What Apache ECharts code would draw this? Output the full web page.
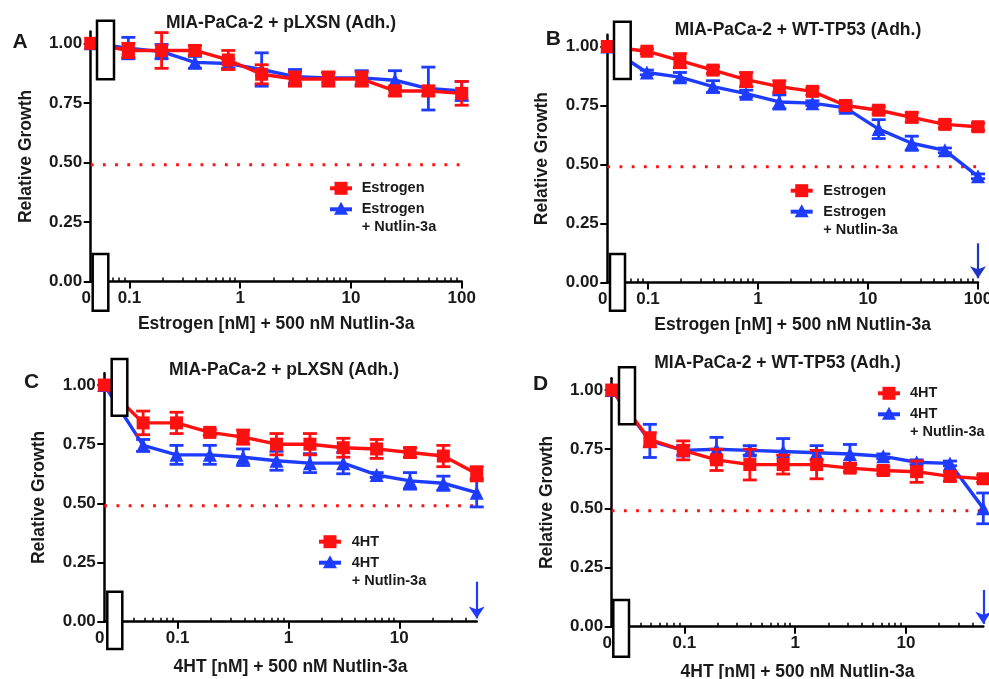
<!DOCTYPE html>
<html><head><meta charset="utf-8">
<script src="https://cdn.jsdelivr.net/npm/echarts@6/dist/echarts.min.js"></script>
<style>html,body{margin:0;padding:0;background:#fff}#c{width:989px;height:679px}</style>
</head><body><div id="c"></div>
<script>
// ---------- DATA ----------
const concEstrogen = [0, 0.0977, 0.195, 0.39, 0.78, 1.5625, 3.125, 6.25, 12.5, 25, 50, 100];
const conc4HT      = [0, 0.0488, 0.0977, 0.195, 0.39, 0.78, 1.5625, 3.125, 6.25, 12.5, 25, 50];

const aRed     = [1.00, 0.97, 0.97, 0.97, 0.93, 0.87, 0.85, 0.85, 0.85, 0.80, 0.80, 0.79];
const aRedErr  = [0, 0.03, 0.075, 0.02, 0.04, 0.04, 0.03, 0.03, 0.03, 0.02, 0.02, 0.05];
const aBlue    = [1.00, 0.98, 0.965, 0.92, 0.915, 0.89, 0.86, 0.855, 0.855, 0.845, 0.81, 0.80];
const aBlueErr = [0, 0.045, 0.03, 0.025, 0.02, 0.07, 0.03, 0.02, 0.03, 0.04, 0.09, 0.04];

const bRed     = [1.00, 0.98, 0.94, 0.90, 0.86, 0.83, 0.81, 0.75, 0.73, 0.70, 0.67, 0.66];
const bRedErr  = [0, 0.01, 0.03, 0.015, 0.03, 0.025, 0.015, 0.015, 0.015, 0.02, 0.015, 0.015];
const bBlue    = [1.00, 0.89, 0.87, 0.83, 0.80, 0.765, 0.76, 0.74, 0.65, 0.59, 0.56, 0.45];
const bBlueErr = [0, 0.01, 0.02, 0.025, 0.015, 0.03, 0.01, 0.015, 0.04, 0.03, 0.01, 0.01];

const cRed     = [1.00, 0.84, 0.84, 0.80, 0.78, 0.75, 0.75, 0.735, 0.73, 0.715, 0.70, 0.625];
const cRedErr  = [0, 0.05, 0.045, 0.012, 0.03, 0.045, 0.045, 0.04, 0.04, 0.02, 0.045, 0.03];
const cBlue    = [1.00, 0.745, 0.705, 0.705, 0.695, 0.68, 0.67, 0.67, 0.62, 0.595, 0.585, 0.545];
const cBlueErr = [0, 0.025, 0.04, 0.04, 0.035, 0.04, 0.04, 0.045, 0.01, 0.035, 0.03, 0.06];

const dRed     = [1.00, 0.79, 0.745, 0.705, 0.685, 0.685, 0.685, 0.67, 0.66, 0.655, 0.635, 0.625];
const dRedErr  = [0, 0.03, 0.04, 0.045, 0.065, 0.04, 0.06, 0.015, 0.015, 0.045, 0.02, 0.015];
const dBlue    = [1.00, 0.785, 0.745, 0.75, 0.745, 0.74, 0.735, 0.73, 0.72, 0.695, 0.69, 0.50];
const dBlueErr = [0, 0.07, 0.02, 0.05, 0.02, 0.055, 0.03, 0.04, 0.01, 0.01, 0.01, 0.065];

const halfGrowth = 0.49;
// arrows: [concentration, from, to]
const arrowB = [100, 0.166, 0.018];
const arrowC = [50, 0.169, 0.014];
const arrowD = [50, 0.155, 0.012];

const xTickValues = [0.1, 1, 10, 100];
const xTickLabels = ['0.1', '1', '10', '100'];
const xZeroLabel = '0';
const yTickValues = [0, 0.25, 0.5, 0.75, 1.0];
const yTickLabels = ['0.00', '0.25', '0.50', '0.75', '1.00'];

const panelLetters = ['A', 'B', 'C', 'D'];
const panelTitles = ['MIA-PaCa-2 + pLXSN (Adh.)', 'MIA-PaCa-2 + WT-TP53 (Adh.)', 'MIA-PaCa-2 + pLXSN (Adh.)', 'MIA-PaCa-2 + WT-TP53 (Adh.)'];
const xAxisNames = ['Estrogen [nM] + 500 nM Nutlin-3a', 'Estrogen [nM] + 500 nM Nutlin-3a', '4HT [nM] + 500 nM Nutlin-3a', '4HT [nM] + 500 nM Nutlin-3a'];
const yAxisName = 'Relative Growth';
const redNames = ['Estrogen', 'Estrogen', '4HT', '4HT'];
const blueNames = ['Estrogen\n+ Nutlin-3a', 'Estrogen\n+ Nutlin-3a', '4HT\n+ Nutlin-3a', '4HT\n+ Nutlin-3a'];

// ---------- STYLE / LAYOUT ----------
const RED = '#ff1010';
const BLUE = '#1e3cff';
const FONT = '"Liberation Sans", Arial, Helvetica, sans-serif';
const TXT = '#1a1a1a';

const panels = [
  { conc: concEstrogen, red: aRed, redErr: aRedErr, blue: aBlue, blueErr: aBlueErr, arrow: null, arrowColor: BLUE,
    left: 90.7, width: 371, top: 31.4, height: 250.1, xmin: -1.35, xmax: 2,
    titleX: 281, titleY: 23.5, letterX: 20, letterY: 42.7,
    legX: 341, legY: 188.3, legTextX: 361.7,
    rectTop: [97, 20.7, 17, 58.6], rectBot: [92.7, 254, 15.6, 56.7], nameGap: 34 },
  { conc: concEstrogen, red: bRed, redErr: bRedErr, blue: bBlue, blueErr: bBlueErr, arrow: arrowB, arrowColor: '#1f36c4',
    left: 607.3, width: 370.7, top: 34.7, height: 247.8, xmin: -1.37, xmax: 2,
    titleX: 798, titleY: 30, letterX: 553.3, letterY: 39.3,
    legX: 801.7, legY: 190.7, legTextX: 823.3,
    rectTop: [614, 21.7, 16.7, 57.3], rectBot: [610, 254, 15, 56.7], nameGap: 34 },
  { conc: conc4HT, red: cRed, redErr: cRedErr, blue: cBlue, blueErr: cBlueErr, arrow: arrowC, arrowColor: BLUE,
    left: 104.3, width: 372.4, top: 373.2, height: 248.5, xmin: -1.662, xmax: Math.log10(50),
    titleX: 284, titleY: 370, letterX: 31.7, letterY: 382,
    legX: 330, legY: 541.7, legTextX: 351.7,
    rectTop: [111.7, 359, 15.6, 56.7], rectBot: [107.3, 591.7, 15, 57.3], nameGap: 36 },
  { conc: conc4HT, red: dRed, redErr: dRedErr, blue: dBlue, blueErr: dBlueErr, arrow: arrowD, arrowColor: BLUE,
    left: 611.7, width: 371.6, top: 378.2, height: 248.5, xmin: -1.656, xmax: Math.log10(50),
    titleX: 777.5, titleY: 363.3, letterX: 540.5, letterY: 384.3,
    legX: 889, legY: 393.3, legTextX: 910,
    rectTop: [619, 367.3, 16, 57], rectBot: [613.3, 600, 15.7, 56.7], nameGap: 36 }
];

function xpos(c, p) { return c === 0 ? p.xmin : Math.log10(c); }

function minorTicks(p) {
  const out = [];
  for (let d = Math.floor(p.xmin); d <= Math.ceil(p.xmax); d++) {
    for (let k = 2; k <= 9; k++) {
      const v = Math.log10(k) + d;
      if (v > p.xmin + 1e-6 && v < p.xmax - 1e-6) out.push(v);
    }
  }
  return out;
}

function errRenderer(color) {
  return function (params, api) {
    const x = api.value(0), y = api.value(1), e = api.value(2);
    const t = api.coord([x, y + e]);
    const b = api.coord([x, y - e]);
    const hw = 7;
    const st = { stroke: color, lineWidth: 2.8 };
    return { type: 'group', children: [
      { type: 'line', shape: { x1: t[0], y1: t[1], x2: b[0], y2: b[1] }, style: st },
      { type: 'line', shape: { x1: t[0] - hw, y1: t[1], x2: t[0] + hw, y2: t[1] }, style: st },
      { type: 'line', shape: { x1: b[0] - hw, y1: b[1], x2: b[0] + hw, y2: b[1] }, style: st }
    ]};
  };
}

const grid = [], xAxis = [], yAxis = [], series = [], graphic = [];

panels.forEach((p, i) => {
  grid.push({ left: p.left, top: p.top, width: p.width, height: p.height, containLabel: false, outerBoundsMode: 'none' });
  const tickVals = xTickValues.filter(v => Math.log10(v) <= p.xmax + 1e-6);
  const labelMap = {};
  xTickValues.forEach((v, k) => { labelMap[Math.log10(v).toFixed(4)] = xTickLabels[k]; });
  // main x axis
  xAxis.push({
    type: 'value', gridIndex: i, min: p.xmin, max: p.xmax,
    name: xAxisNames[i], nameLocation: 'middle', nameGap: p.nameGap,
    nameTextStyle: { fontFamily: FONT, fontWeight: 'bold', fontSize: 17.5, color: TXT },
    axisLine: { show: true, onZero: false, lineStyle: { color: '#000', width: 2.5 } },
    axisTick: { show: true, customValues: tickVals.map(v => Math.log10(v)), length: 7, lineStyle: { color: '#000', width: 2 } },
    axisLabel: {
      show: true, customValues: [p.xmin].concat(tickVals.map(v => Math.log10(v))), margin: 8,
      fontFamily: FONT, fontWeight: 'bold', fontSize: 17, color: TXT,
      formatter: function (v) {
        if (Math.abs(v - p.xmin) < 1e-6) return '{z|' + xZeroLabel + '}';
        return labelMap[v.toFixed(4)] || '';
      },
      rich: { z: { fontFamily: FONT, fontWeight: 'bold', fontSize: 17, color: TXT, padding: [0, 9, 0, 0] } }
    },
    splitLine: { show: false }
  });
  // minor x ticks
  xAxis.push({
    type: 'value', gridIndex: i, min: p.xmin, max: p.xmax,
    axisLine: { show: false },
    axisTick: { show: true, customValues: minorTicks(p), length: 4, lineStyle: { color: '#000', width: 1.5 } },
    axisLabel: { show: false }, splitLine: { show: false }
  });
  yAxis.push({
    type: 'value', gridIndex: i, min: 0, max: 1.05,
    name: yAxisName, nameLocation: 'middle', nameGap: 56, nameRotate: 90,
    nameTextStyle: { fontFamily: FONT, fontWeight: 'bold', fontSize: 17.5, color: TXT },
    axisLine: { show: true, onZero: false, lineStyle: { color: '#000', width: 2.5 } },
    axisTick: { show: true, customValues: yTickValues, length: 7, lineStyle: { color: '#000', width: 2 } },
    axisLabel: { show: true, customValues: yTickValues, margin: 8.5,
      fontFamily: FONT, fontWeight: 'bold', fontSize: 17, color: TXT,
      formatter: function (v) { const k = yTickValues.findIndex(t => Math.abs(t - v) < 1e-6); return k >= 0 ? yTickLabels[k] : ''; } },
    splitLine: { show: false }
  });
  const xi = 2 * i, yi = i;
  // threshold dotted line
  series.push({
    type: 'line', xAxisIndex: xi, yAxisIndex: yi, silent: true, symbol: 'none', z: 1,
    data: [[p.xmin, halfGrowth], [p.xmax, halfGrowth]],
    lineStyle: { color: RED, width: 3, type: [2.8, 9.4], cap: 'butt' }
  });
  const blueData = p.conc.map((c, k) => [xpos(c, p), p.blue[k]]);
  const redData = p.conc.map((c, k) => [xpos(c, p), p.red[k]]);
  series.push({
    type: 'custom', xAxisIndex: xi, yAxisIndex: yi, z: 2, silent: true,
    renderItem: errRenderer(BLUE), encode: { x: 0, y: 1 },
    data: p.conc.map((c, k) => [xpos(c, p), p.blue[k], p.blueErr[k]]).filter(d => d[2] > 0)
  });
  const blueSeries = {
    type: 'line', name: blueNames[i], xAxisIndex: xi, yAxisIndex: yi, z: 3,
    data: blueData, symbol: 'triangle', symbolSize: 14, showAllSymbol: true,
    lineStyle: { color: BLUE, width: 3.4 }, itemStyle: { color: BLUE }
  };
  if (p.arrow) {
    blueSeries.markLine = {
      silent: true, symbol: ['none', 'arrow'], symbolSize: 12, animation: false,
      label: { show: false },
      lineStyle: { color: p.arrowColor, width: 2.2, type: 'solid' },
      data: [[{ coord: [Math.log10(p.arrow[0]), p.arrow[1]] }, { coord: [Math.log10(p.arrow[0]), p.arrow[2]] }]]
    };
  }
  series.push(blueSeries);
  series.push({
    type: 'custom', xAxisIndex: xi, yAxisIndex: yi, z: 4, silent: true,
    renderItem: errRenderer(RED), encode: { x: 0, y: 1 },
    data: p.conc.map((c, k) => [xpos(c, p), p.red[k], p.redErr[k]]).filter(d => d[2] > 0)
  });
  series.push({
    type: 'line', name: redNames[i], xAxisIndex: xi, yAxisIndex: yi, z: 5,
    data: redData, symbol: 'rect', symbolSize: 13, showAllSymbol: true,
    lineStyle: { color: RED, width: 3.4 }, itemStyle: { color: RED }
  });

  // titles and letters
  graphic.push({ type: 'text', z: 50, style: { text: panelTitles[i], x: p.titleX, y: p.titleY, align: 'center', verticalAlign: 'middle',
    fontFamily: FONT, fontWeight: 'bold', fontSize: 17.5, fill: TXT } });
  graphic.push({ type: 'text', z: 50, style: { text: panelLetters[i], x: p.letterX, y: p.letterY, align: 'center', verticalAlign: 'middle',
    fontFamily: FONT, fontWeight: 'bold', fontSize: 21, fill: TXT } });
  // legend
  const ly1 = p.legY, ly2 = p.legY + 21;
  graphic.push({ type: 'line', z: 50, shape: { x1: p.legX - 11, y1: ly1, x2: p.legX + 11, y2: ly1 }, style: { stroke: RED, lineWidth: 4 } });
  graphic.push({ type: 'rect', z: 51, shape: { x: p.legX - 6.5, y: ly1 - 6.5, width: 13, height: 13 }, style: { fill: RED } });
  graphic.push({ type: 'text', z: 50, style: { text: redNames[i], x: p.legTextX, y: ly1, align: 'left', verticalAlign: 'middle',
    fontFamily: FONT, fontWeight: 'bold', fontSize: 14.5, fill: TXT } });
  graphic.push({ type: 'line', z: 50, shape: { x1: p.legX - 11, y1: ly2, x2: p.legX + 11, y2: ly2 }, style: { stroke: BLUE, lineWidth: 4 } });
  graphic.push({ type: 'polygon', z: 51, shape: { points: [[p.legX, ly2 - 7.5], [p.legX - 7, ly2 + 5.5], [p.legX + 7, ly2 + 5.5]] }, style: { fill: BLUE } });
  graphic.push({ type: 'text', z: 50, style: { text: blueNames[i], x: p.legTextX, y: ly2 - 9, align: 'left', verticalAlign: 'top',
    lineHeight: 18, fontFamily: FONT, fontWeight: 'bold', fontSize: 14.5, fill: TXT } });
  // axis-break boxes
  [p.rectTop, p.rectBot].forEach(r => {
    graphic.push({ type: 'rect', z: 100, shape: { x: r[0], y: r[1], width: r[2], height: r[3] },
      style: { fill: '#fff', stroke: '#000', lineWidth: 2.5 } });
  });
});

const chart = echarts.init(document.getElementById('c'), null, { renderer: 'canvas' });
chart.setOption({
  animation: false,
  backgroundColor: '#fff',
  grid, xAxis, yAxis, series, graphic
});
</script>
</body></html>
